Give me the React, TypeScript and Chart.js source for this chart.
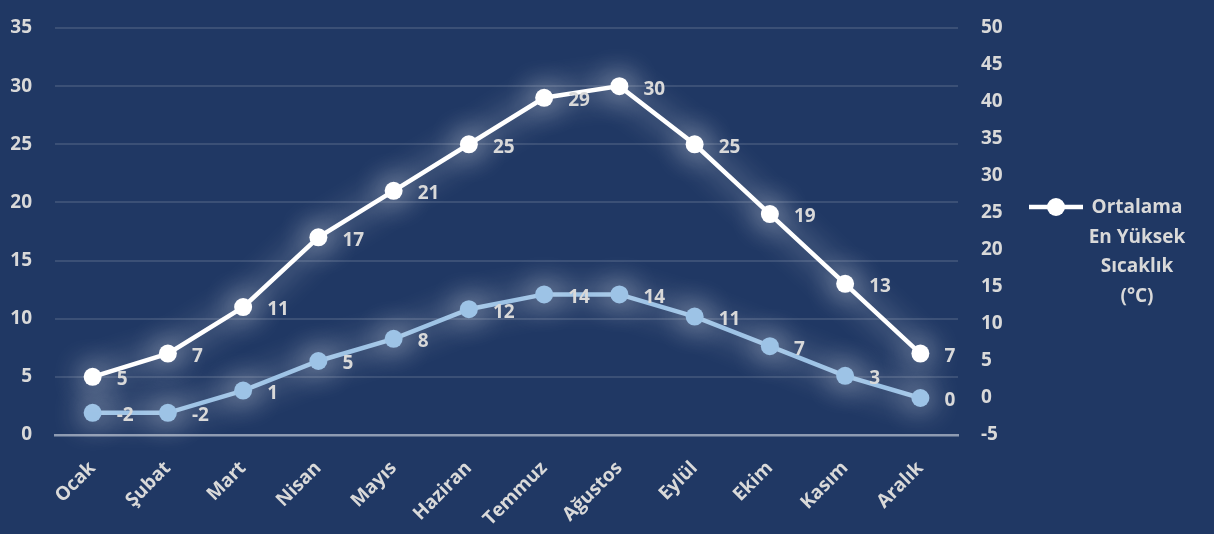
import React, { useEffect, useRef } from "react";
import { Chart, registerables } from "chart.js";

Chart.register(...registerables);

const months = ["Ocak", "Şubat", "Mart", "Nisan", "Mayıs", "Haziran", "Temmuz", "Ağustos", "Eylül", "Ekim", "Kasım", "Aralık"];
const maxTemps = [5, 7, 11, 17, 21, 25, 29, 30, 25, 19, 13, 7];
const minTemps = [-2, -2, 1, 5, 8, 12, 14, 14, 11, 7, 3, 0];
const maxLabel = "Ortalama En Yüksek Sıcaklık (°C)";
const minLabel = "Ortalama En Düşük Sıcaklık (°C)";
const legendLines = ["Ortalama", "En Yüksek", "Sıcaklık", "(°C)"];
const leftAxis = { min: 0, max: 35, step: 5 };
const rightAxis = { min: -5, max: 50, step: 5 };

const BG = "#203864";
const TEXT = "#D9D9D9";
const WHITE = "#FFFFFF";
const BLUE = "#9DC3E6";
const FONT_FAMILY = "'Open Sans', Lato, sans-serif";
const FONT_SIZE = 19;

const glowPlugin = {
  id: "glow",
  beforeDatasetDraw(chart: any) {
    const ctx = chart.ctx;
    ctx.save();
    ctx.shadowColor = "rgba(255,255,255,0.9)";
    ctx.shadowBlur = 30;
    ctx.shadowOffsetX = 0;
    ctx.shadowOffsetY = 0;
  },
  afterDatasetDraw(chart: any) {
    chart.ctx.restore();
  },
};

const dataLabelPlugin = {
  id: "dataLabels",
  afterDatasetsDraw(chart: any) {
    const ctx = chart.ctx;
    ctx.save();
    ctx.font = `bold ${FONT_SIZE}px ${FONT_FAMILY}`;
    ctx.fillStyle = TEXT;
    ctx.textAlign = "left";
    ctx.textBaseline = "middle";
    chart.data.datasets.forEach((ds: any, i: number) => {
      const meta = chart.getDatasetMeta(i);
      meta.data.forEach((pt: any, j: number) => {
        ctx.fillText(String(ds.data[j]), pt.x + 24, pt.y + 3);
      });
    });
    ctx.restore();
  },
};

const legendPlugin = {
  id: "customLegend",
  afterDraw(chart: any) {
    const ctx = chart.ctx;
    const ds = chart.data.datasets[0];
    const x0 = chart.width - 185;
    const y0 = 207;
    ctx.save();
    ctx.strokeStyle = ds.borderColor;
    ctx.lineWidth = 4.5;
    ctx.beginPath();
    ctx.moveTo(x0, y0);
    ctx.lineTo(x0 + 54, y0);
    ctx.stroke();
    ctx.fillStyle = ds.pointBackgroundColor;
    ctx.beginPath();
    ctx.arc(x0 + 27, y0, 9, 0, Math.PI * 2);
    ctx.fill();
    ctx.font = `bold ${FONT_SIZE}px ${FONT_FAMILY}`;
    ctx.fillStyle = TEXT;
    ctx.textAlign = "center";
    ctx.textBaseline = "middle";
    legendLines.forEach((line, i) => {
      ctx.fillText(line, x0 + 108, y0 + 1 + i * 29.5);
    });
    ctx.restore();
  },
};

export default function App() {
  const canvasRef = useRef<HTMLCanvasElement | null>(null);

  useEffect(() => {
    document.body.style.margin = "0";
    const canvas = canvasRef.current;
    if (!canvas) return;
    const tickFont = { family: FONT_FAMILY, size: FONT_SIZE, weight: "bold" as const };
    const chart = new Chart(canvas, {
      type: "line",
      data: {
        labels: months,
        datasets: [
          {
            label: maxLabel,
            data: maxTemps,
            yAxisID: "y",
            borderColor: WHITE,
            backgroundColor: WHITE,
            pointBackgroundColor: WHITE,
            pointBorderColor: WHITE,
            borderWidth: 4.5,
            pointRadius: 9,
            pointBorderWidth: 0,
            tension: 0,
            clip: false,
          },
          {
            label: minLabel,
            data: minTemps,
            yAxisID: "y1",
            borderColor: BLUE,
            backgroundColor: BLUE,
            pointBackgroundColor: BLUE,
            pointBorderColor: BLUE,
            borderWidth: 4.5,
            pointRadius: 9,
            pointBorderWidth: 0,
            tension: 0,
            clip: false,
          },
        ],
      },
      options: {
        animation: false,
        responsive: true,
        maintainAspectRatio: false,
        layout: { padding: { top: 28, left: 0, right: 186, bottom: 0 } },
        plugins: {
          legend: { display: false },
          tooltip: { enabled: false },
        },
        scales: {
          x: {
            offset: true,
            grid: { display: false, drawTicks: false },
            border: { display: true, color: "#8E9BB2", width: 2.5 },
            ticks: {
              color: TEXT,
              font: tickFont,
              maxRotation: 45,
              minRotation: 45,
              autoSkip: false,
              padding: 22,
            },
            afterFit(scale: any) {
              scale.height = 99;
            },
          },
          y: {
            position: "left",
            min: leftAxis.min,
            max: leftAxis.max,
            grid: { color: "rgba(255,255,255,0.12)", lineWidth: 2, drawTicks: false },
            border: { display: false },
            ticks: { stepSize: leftAxis.step, color: TEXT, font: tickFont, padding: 23 },
            afterFit(scale: any) {
              scale.width = 55;
              scale.paddingTop = 12;
              scale.paddingBottom = 12;
            },
          },
          y1: {
            position: "right",
            min: rightAxis.min,
            max: rightAxis.max,
            grid: { display: false, drawTicks: false },
            border: { display: false },
            ticks: { stepSize: rightAxis.step, color: TEXT, font: tickFont, padding: 23 },
            afterFit(scale: any) {
              scale.width = 70;
              scale.paddingTop = 12;
              scale.paddingBottom = 12;
            },
          },
        },
      },
      plugins: [glowPlugin, dataLabelPlugin, legendPlugin],
    });
    return () => chart.destroy();
  }, []);

  return (
    <div style={{ width: 1214, height: 534, background: BG, position: "relative" }}>
      <canvas ref={canvasRef} />
    </div>
  );
}
